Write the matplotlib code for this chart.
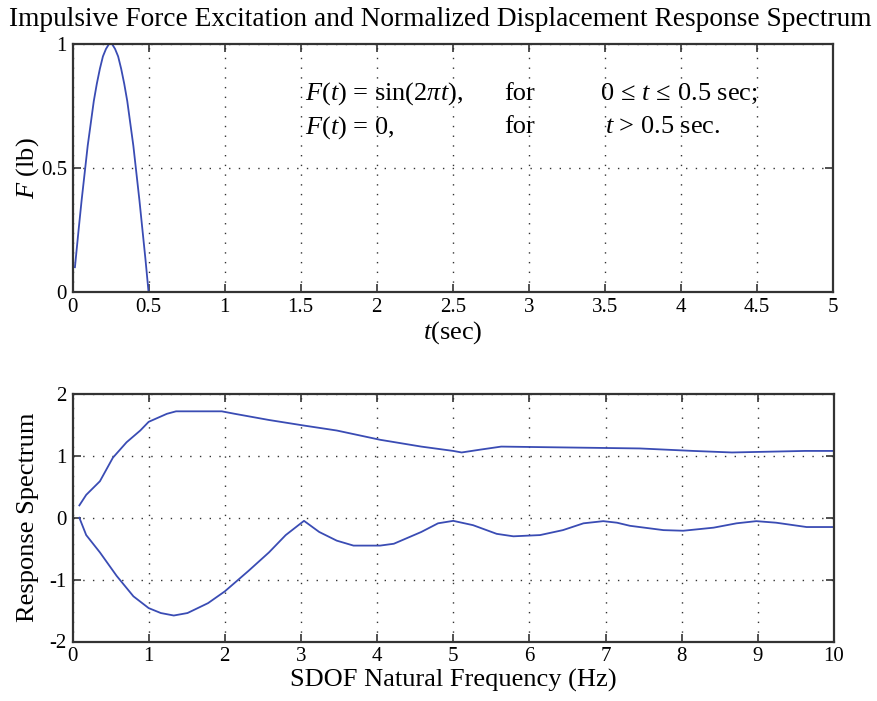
import matplotlib
matplotlib.use("Agg")
import matplotlib.pyplot as plt

plt.rcParams['font.family'] = ['Liberation Serif', 'DejaVu Serif']
plt.rcParams['mathtext.fontset'] = 'custom'
plt.rcParams['mathtext.rm'] = 'Liberation Serif'
plt.rcParams['mathtext.it'] = 'Liberation Serif:italic'
plt.rcParams['axes.unicode_minus'] = False

# --- Force pulse ---
t_force = [0.016, 0.04, 0.06, 0.08, 0.10, 0.12, 0.14, 0.16, 0.18, 0.20, 0.22, 0.24,
           0.25, 0.26, 0.28, 0.30, 0.32, 0.34, 0.36, 0.38, 0.40, 0.42, 0.44, 0.46,
           0.48, 0.50]
F_force = [0.10, 0.25, 0.37, 0.48, 0.59, 0.68, 0.77, 0.84, 0.90, 0.95, 0.98, 1.00,
           1.00, 1.00, 0.98, 0.95, 0.90, 0.84, 0.77, 0.68, 0.59, 0.48, 0.37, 0.25,
           0.13, 0.00]

# --- Response spectrum ---
f_max = [0.09, 0.18, 0.36, 0.53, 0.71, 0.89, 1.00, 1.24, 1.36, 1.96, 2.13, 2.58,
         3.04, 3.47, 4.04, 4.58, 5.00, 5.11, 5.35, 5.63, 7.45, 8.15, 8.66, 9.62, 10.0]
r_max = [0.20, 0.37, 0.59, 0.97, 1.22, 1.41, 1.55, 1.68, 1.72, 1.72, 1.68, 1.58,
         1.49, 1.41, 1.26, 1.15, 1.08, 1.055, 1.10, 1.15, 1.12, 1.08, 1.055, 1.08, 1.08]

f_min = [0.09, 0.18, 0.36, 0.58, 0.80, 1.00, 1.16, 1.33, 1.51, 1.78, 2.00, 2.31,
         2.58, 2.80, 3.04, 3.24, 3.47, 3.69, 4.04, 4.22, 4.58, 4.80, 5.00, 5.26,
         5.57, 5.79, 6.14, 6.44, 6.71, 6.97, 7.15, 7.32, 7.76, 8.02, 8.42, 8.72,
         8.98, 9.24, 9.64, 10.0]
r_min = [0.00, -0.28, -0.56, -0.94, -1.27, -1.46, -1.54, -1.58, -1.54, -1.38, -1.19,
         -0.86, -0.56, -0.28, -0.05, -0.23, -0.37, -0.45, -0.45, -0.42, -0.23, -0.09,
         -0.05, -0.12, -0.26, -0.30, -0.28, -0.20, -0.09, -0.055, -0.08, -0.13, -0.20,
         -0.21, -0.16, -0.09, -0.055, -0.08, -0.15, -0.15]

top_xticks = [0, 0.5, 1, 1.5, 2, 2.5, 3, 3.5, 4, 4.5, 5]
top_xlabels = ['0', '0.5', '1', '1.5', '2', '2.5', '3', '3.5', '4', '4.5', '5']
top_yticks = [0, 0.5, 1]
top_ylabels = ['0', '0.5', '1']
bot_xticks = list(range(0, 11))
bot_yticks = [-2, -1, 0, 1, 2]

W, H = 877, 701
fig = plt.figure(figsize=(W / 100, H / 100), dpi=100)

def px_axes(l, r, t, b):
    return fig.add_axes([l / W, 1 - b / H, (r - l) / W, (b - t) / H])

line_color = '#3a4cb4'
spine_color = '#333333'
tick_fs = 15
lab_fs = 19

def style(ax):
    for s in ax.spines.values():
        s.set_color(spine_color)
        s.set_linewidth(1.6)
    ax.tick_params(direction='in', length=6, width=1.2, colors=spine_color,
                   top=True, right=True, labelsize=tick_fs, labelcolor='black', pad=4)
    ax.grid(True, linestyle=(0, (1, 6)), color='#333333', linewidth=1.0)

ax1 = px_axes(72.5, 833, 44, 292)
ax1.plot(t_force, F_force, color=line_color, linewidth=1.3)
ax1.set_xlim(0, 5)
ax1.set_ylim(0, 1)
ax1.set_xticks(top_xticks)
ax1.set_xticklabels(top_xlabels)
ax1.set_yticks(top_yticks)
ax1.set_yticklabels(top_ylabels)
style(ax1)
ax1.set_xlabel(r'$t$(sec)', fontsize=lab_fs, labelpad=2)
ax1.set_ylabel(r'$F$ (lb)', fontsize=lab_fs, labelpad=0)
fig.text(440 / W, 1 - 20 / H,
         'Impulsive Force Excitation and Normalized Displacement Response Spectrum',
         fontsize=19.7, ha='center', va='center')

tfs = 19
ax1.text(1.53, 0.80, r'$F(t)$ = sin(2$\pi t$),', fontsize=tfs, va='center', ha='left')
ax1.text(2.84, 0.80, 'for', fontsize=tfs, va='center', ha='left')
ax1.text(3.47, 0.80, r'0$\,\leq\,t\,\leq\,$0.5 sec;', fontsize=tfs, va='center', ha='left')
ax1.text(1.53, 0.665, r'$F(t)$ = 0,', fontsize=tfs, va='center', ha='left')
ax1.text(2.84, 0.665, 'for', fontsize=tfs, va='center', ha='left')
ax1.text(3.50, 0.665, r'$t$ > 0.5 sec.', fontsize=tfs, va='center', ha='left')

ax2 = px_axes(72.5, 834, 394, 641.5)
ax2.plot(f_max, r_max, color=line_color, linewidth=1.3)
ax2.plot(f_min, r_min, color=line_color, linewidth=1.3)
ax2.set_xlim(0, 10)
ax2.set_ylim(-2, 2)
ax2.set_xticks(bot_xticks)
ax2.set_yticks(bot_yticks)
style(ax2)
ax2.set_xlabel('SDOF Natural Frequency (Hz)', fontsize=lab_fs, labelpad=2)
ax2.set_ylabel('Response Spectrum', fontsize=lab_fs, labelpad=8)

fig.savefig('out.png', dpi=100)
